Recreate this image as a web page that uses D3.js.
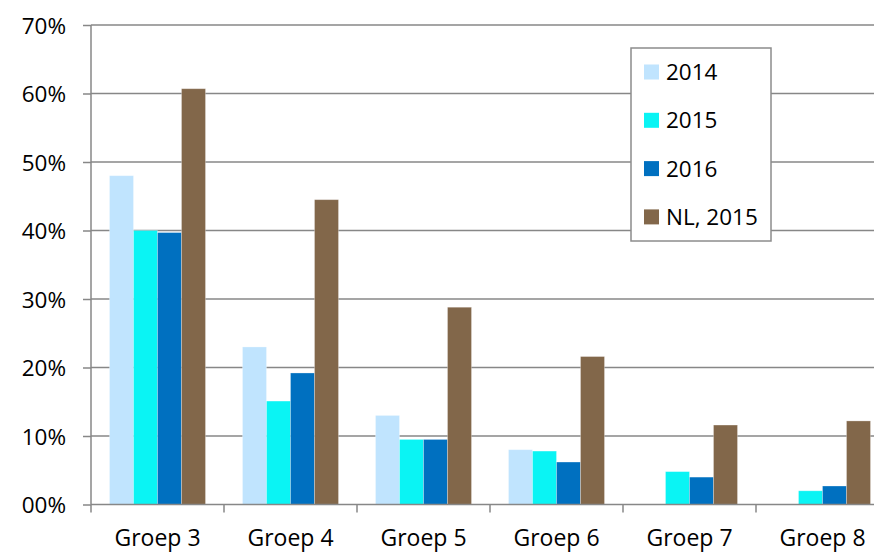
<!DOCTYPE html>
<html>
<head>
<meta charset="utf-8">
<script src="https://cdn.jsdelivr.net/npm/d3@7"></script>
<style>
  body { margin: 0; background: #fff; }
  svg text { font-family: "Open Sans", sans-serif; fill: #000; }
</style>
</head>
<body>
<svg id="chart" width="874" height="552"></svg>
<script>
// data
const categories = ["Groep 3", "Groep 4", "Groep 5", "Groep 6", "Groep 7", "Groep 8"];
const seriesNames = ["2014", "2015", "2016", "NL, 2015"];
const v2014 = [48.0, 23.0, 13.0, 8.0, 0, 0];
const v2015 = [40.0, 15.1, 9.5, 7.8, 4.8, 2.0];
const v2016 = [39.7, 19.2, 9.5, 6.2, 4.0, 2.7];
const vNL2015 = [60.7, 44.5, 28.8, 21.6, 11.6, 12.2];
const yTicks = [0, 10, 20, 30, 40, 50, 60, 70];
const yTickLabels = ["00%", "10%", "20%", "30%", "40%", "50%", "60%", "70%"];

const allSeries = [v2014, v2015, v2016, vNL2015];
const colors = ["#c0e4fe", "#0af4f4", "#0070c0", "#82674a"];
const gridColor = "#878787";

let svg = d3.select("#chart");
let marginLeft = 91, plotTop = 25, plotBottom = 504.5;
let plotw = 133 * 6; // plot runs past the right edge of the picture

let x0 = d3.scaleBand().domain(categories).range([marginLeft, marginLeft + plotw]).paddingInner(0).paddingOuter(0);
let x1 = d3.scaleBand().domain(seriesNames).range([18.5, 133 - 18.5]).padding(0);
let y = d3.scaleLinear().domain([0, 70]).range([plotBottom, plotTop]);

// gridlines
svg.append("g").selectAll("line")
  .data(yTicks.filter(d => d > 0))
  .join("line")
  .attr("x1", marginLeft).attr("x2", marginLeft + plotw)
  .attr("y1", d => y(d)).attr("y2", d => y(d))
  .style("stroke", gridColor).style("stroke-width", 1.5);

// bars
let groups = svg.append("g").selectAll("g")
  .data(categories)
  .join("g")
  .attr("transform", d => "translate(" + x0(d) + ",0)");

groups.selectAll("rect")
  .data((c, i) => seriesNames.map((s, si) => ({ s: s, si: si, v: allSeries[si][i] })).filter(d => d.v > 0))
  .join("rect")
  .attr("x", d => x1(d.s))
  .attr("width", x1.bandwidth())
  .attr("y", d => y(d.v))
  .attr("height", d => plotBottom - y(d.v))
  .style("fill", d => colors[d.si])
  .style("stroke", "rgba(255,255,255,0.35)")
  .style("stroke-width", 0.8);

// y axis
let yaxis = d3.axisLeft(y).tickValues(yTicks).tickSize(8).tickPadding(17)
  .tickFormat((d, i) => yTickLabels[i]);
let yg = svg.append("g").attr("transform", "translate(" + marginLeft + ",0)").call(yaxis);
yg.select(".domain").attr("d", "M0," + plotTop + "V" + plotBottom).style("stroke", gridColor).style("stroke-width", 1.5);
yg.selectAll(".tick line").style("stroke", gridColor).style("stroke-width", 1.5);
yg.selectAll(".tick text").style("font-size", "22.5px").attr("dy", "0.36em");

// x axis
let xaxis = d3.axisBottom(x0).tickSize(0).tickPadding(25);
let xg = svg.append("g").attr("transform", "translate(0," + plotBottom + ")").call(xaxis);
xg.select(".domain").attr("d", "M" + marginLeft + ",0H" + (marginLeft + plotw)).style("stroke", gridColor).style("stroke-width", 1.5);
xg.selectAll(".tick text").style("font-size", "23px").attr("dy", "0.71em");
xg.selectAll(".sep")
  .data(d3.range(categories.length + 1))
  .join("line")
  .attr("class", "sep")
  .attr("x1", d => marginLeft + d * x0.step()).attr("x2", d => marginLeft + d * x0.step())
  .attr("y1", 0).attr("y2", 8)
  .style("stroke", gridColor).style("stroke-width", 1.5);

// legend
let leg = svg.append("g").attr("transform", "translate(631,48)");
leg.append("rect")
  .attr("width", 140).attr("height", 193)
  .style("fill", "#fff").style("stroke", "#8c8c8c").style("stroke-width", 1.5);
let items = leg.selectAll("g.item")
  .data(seriesNames)
  .join("g")
  .attr("class", "item")
  .attr("transform", (d, i) => "translate(13," + (24 + i * 48.3) + ")");
items.append("rect")
  .attr("y", -7.5).attr("width", 15).attr("height", 15)
  .style("fill", (d, i) => colors[i]);
items.append("text")
  .attr("x", 22).attr("dy", "0.36em")
  .style("font-size", "22.5px")
  .text(d => d);
</script>
</body>
</html>
